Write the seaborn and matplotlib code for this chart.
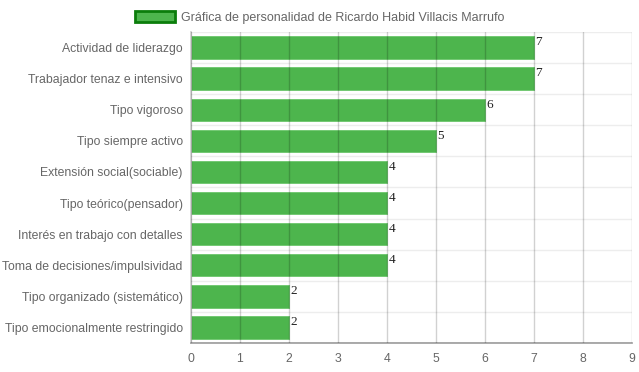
import numpy as np
import pandas as pd
import seaborn as sns
import matplotlib.pyplot as plt
from matplotlib.patches import Patch

rasgos = [
    "Actividad de liderazgo",
    "Trabajador tenaz e intensivo",
    "Tipo vigoroso",
    "Tipo siempre activo",
    "Extensión social(sociable)",
    "Tipo teórico(pensador)",
    "Interés en trabajo con detalles",
    "Toma de decisiones/impulsividad",
    "Tipo organizado (sistemático)",
    "Tipo emocionalmente restringido",
]
puntajes = [7, 7, 6, 5, 4, 4, 4, 4, 2, 2]
titulo = "Gráfica de personalidad de Ricardo Habid Villacis Marrufo"

df = pd.DataFrame({"rasgo": rasgos, "puntaje": puntajes})

sns.set_theme(style="white")
plt.rcParams['font.family'] = ['Liberation Sans', 'DejaVu Sans']

fig = plt.figure(figsize=(6.39, 3.72), dpi=100)
ax = fig.add_axes([0.2989, 0.078, 0.6901, 0.836])

verde = "#4db54d"
sns.barplot(data=df, x="puntaje", y="rasgo", color=verde, width=0.72,
            saturation=1, edgecolor="#6cc76c", linewidth=0.6, ax=ax)

ax.set_xlim(0, 9)
ax.set_ylim(len(rasgos) - 0.5, -0.5)
ax.set_xticks(np.arange(0, 10, 1))
ax.set_xlabel("")
ax.set_ylabel("")

# rejilla vertical encima de las barras, horizontal entre categorias
ax.set_axisbelow(False)
ax.grid(axis="x", color="#000000", alpha=0.18, linewidth=1)
ax.set_yticks(np.arange(-0.5, len(rasgos), 1), minor=True)
ax.grid(axis="y", which="minor", color="#000000", alpha=0.07, linewidth=1)
ax.grid(axis="y", which="major", visible=False)

ax.tick_params(axis="x", colors="#666666", labelsize=8.8, length=7, width=1,
               color="#d0d0d0", pad=0)
ax.tick_params(axis="y", which="major", colors="#666666", labelsize=8.8, length=0, pad=6)
ax.tick_params(axis="y", which="minor", length=7, color="#ececec", width=1)

for s in ["top", "right"]:
    ax.spines[s].set_visible(False)
ax.spines["left"].set_color("#d0d0d0")
ax.spines["bottom"].set_color("#a0a0a0")

for i, v in enumerate(puntajes):
    ax.annotate(str(v), (v, i - 0.36), xytext=(1, 0), textcoords="offset points",
                ha="left", va="top", fontsize=9.5, color="#222222",
                family=["Liberation Serif", "DejaVu Serif"])

handle = Patch(facecolor=verde, edgecolor="#0b7d0b", linewidth=2)
fig.legend([handle], [titulo], loc="upper center", bbox_to_anchor=(0.5, 1.0),
           frameon=False, fontsize=9, labelcolor="#666666",
           handlelength=3.2, handleheight=0.9, handletextpad=0.5)

fig.savefig("out.png", dpi=100)
